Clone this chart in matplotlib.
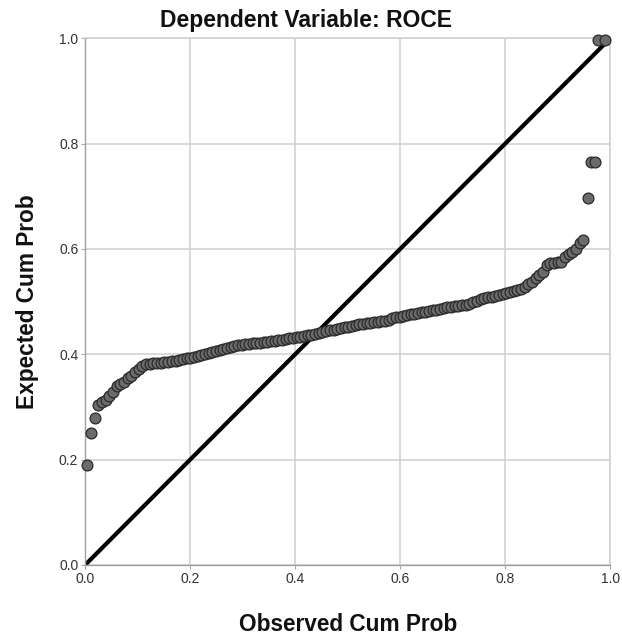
import matplotlib
matplotlib.use("Agg")
import matplotlib.pyplot as plt

# ------------------------------
# Data
# ------------------------------

observed = [0.004, 0.011, 0.018, 0.025, 0.032, 0.039, 0.046, 0.053, 0.060, 0.067,
            0.074, 0.081, 0.088, 0.095, 0.102, 0.109, 0.116, 0.123, 0.130, 0.137,
            0.144, 0.151, 0.158, 0.165, 0.172, 0.179, 0.186, 0.193, 0.200, 0.207,
            0.214, 0.221, 0.228, 0.235, 0.242, 0.249, 0.256, 0.263, 0.270, 0.277,
            0.284, 0.291, 0.298, 0.305, 0.312, 0.319, 0.326, 0.333, 0.340, 0.347,
            0.354, 0.361, 0.368, 0.375, 0.382, 0.389, 0.396, 0.403, 0.410, 0.417,
            0.424, 0.431, 0.438, 0.445, 0.452, 0.459, 0.466, 0.473, 0.480, 0.487,
            0.494, 0.501, 0.508, 0.515, 0.522, 0.529, 0.536, 0.543, 0.550, 0.557,
            0.564, 0.571, 0.578, 0.585, 0.592, 0.599, 0.606, 0.613, 0.620, 0.627,
            0.634, 0.641, 0.648, 0.655, 0.662, 0.669, 0.676, 0.683, 0.690, 0.697,
            0.704, 0.711, 0.718, 0.725, 0.732, 0.739, 0.746, 0.753, 0.760, 0.767,
            0.774, 0.781, 0.788, 0.795, 0.802, 0.809, 0.816, 0.823, 0.830, 0.837,
            0.844, 0.851, 0.858, 0.865, 0.872, 0.879, 0.886, 0.893, 0.900, 0.907,
            0.914, 0.921, 0.928, 0.935, 0.942, 0.949, 0.958, 0.964, 0.971, 0.977,
            0.990]

expected = [0.190, 0.250, 0.279, 0.304, 0.309, 0.313, 0.320, 0.328, 0.340, 0.344,
            0.348, 0.354, 0.359, 0.366, 0.372, 0.378, 0.381, 0.382, 0.383, 0.384,
            0.384, 0.385, 0.386, 0.387, 0.388, 0.389, 0.391, 0.392, 0.393, 0.395,
            0.397, 0.399, 0.401, 0.403, 0.404, 0.406, 0.408, 0.410, 0.412, 0.413,
            0.415, 0.417, 0.418, 0.419, 0.420, 0.421, 0.421, 0.422, 0.423, 0.424,
            0.425, 0.426, 0.427, 0.428, 0.429, 0.430, 0.431, 0.432, 0.433, 0.435,
            0.436, 0.437, 0.439, 0.440, 0.442, 0.444, 0.446, 0.447, 0.448, 0.450,
            0.451, 0.452, 0.454, 0.455, 0.457, 0.458, 0.459, 0.460, 0.461, 0.462,
            0.463, 0.464, 0.465, 0.468, 0.470, 0.471, 0.472, 0.474, 0.476, 0.477,
            0.478, 0.480, 0.481, 0.483, 0.484, 0.485, 0.486, 0.488, 0.489, 0.490,
            0.491, 0.492, 0.493, 0.494, 0.496, 0.499, 0.502, 0.505, 0.507, 0.508,
            0.509, 0.510, 0.512, 0.514, 0.516, 0.518, 0.520, 0.522, 0.524, 0.528,
            0.533, 0.538, 0.544, 0.550, 0.556, 0.569, 0.573, 0.574, 0.575, 0.576,
            0.584, 0.590, 0.595, 0.600, 0.612, 0.617, 0.696, 0.765, 0.765, 0.997,
            0.997]

ticks = [0.0, 0.2, 0.4, 0.6, 0.8, 1.0]
tick_labels = ["0.0", "0.2", "0.4", "0.6", "0.8", "1.0"]

# ------------------------------
# Plot
# ------------------------------

plt.rcParams["font.family"] = ["Liberation Sans", "DejaVu Sans"]

fig = plt.figure(figsize=(6.22, 6.39), dpi=100)
ax = fig.add_axes([0.137, 0.116, 0.844, 0.824])

ax.plot([0, 1], [0, 1], color="black", lw=3, zorder=2, solid_capstyle="butt")
ax.plot(observed, expected, "o", ms=7.8, mfc="#6b6b6b", mec="#2a2a2a",
        mew=0.9, zorder=3, clip_on=False)

ax.set_xlim(0, 1)
ax.set_ylim(0, 1)
ax.set_xticks(ticks)
ax.set_xticklabels(tick_labels)
ax.set_yticks(ticks)
ax.set_yticklabels(tick_labels)
ax.tick_params(labelsize=10, colors="#333333", length=3, width=0.8,
               color="#aaaaaa", pad=2)
ax.grid(True, color="#d0d0d0", lw=1.1)
ax.set_axisbelow(True)

for side in ["top", "right"]:
    ax.spines[side].set_color("#d0d0d0")
    ax.spines[side].set_linewidth(1.1)
for side in ["left", "bottom"]:
    ax.spines[side].set_color("#a0a0a0")
    ax.spines[side].set_linewidth(1.0)

# SPSS centres the title on the whole chart, not on the plot area
title = fig.text(0.492, 0.958, "Dependent Variable: ROCE", fontsize=16,
                 fontweight="bold", color="#111111", ha="center", va="baseline")
xlab = fig.text(0.559, 0.0125, "Observed Cum Prob", fontsize=16,
                fontweight="bold", color="#111111", ha="center", va="baseline")
ylab = fig.text(0.045, 0.528, "Expected Cum Prob", fontsize=16, rotation=90,
                fontweight="bold", color="#111111", ha="center", va="center")

# scale the text so its width matches the reference (pixels)
fig.canvas.draw()
r = fig.canvas.get_renderer()
for t, target in [(title, 292), (xlab, 219)]:
    w = t.get_window_extent(r).width
    t.set_fontsize(t.get_fontsize() * target / w)
ylab.set_fontsize(xlab.get_fontsize())

plt.savefig("out.png", dpi=100)
